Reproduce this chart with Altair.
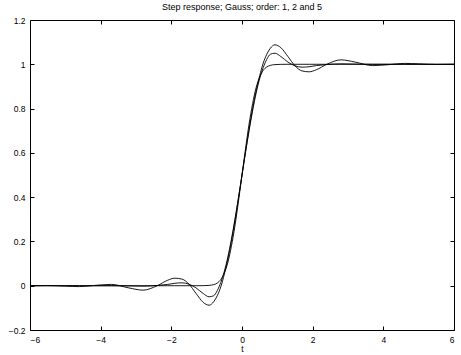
import altair as alt
import pandas as pd

# time axis (common to all series)
t = [-6, -5.5, -5, -4.6, -4.2, -3.7, -3.2, -2.8, -2.4, -2.1, -1.9, -1.7, -1.5, -1.3,
     -1.1, -0.93, -0.8, -0.7, -0.6, -0.5, -0.4, -0.3, -0.2, -0.1, 0,
     0.1, 0.2, 0.3, 0.4, 0.5, 0.6, 0.7, 0.8, 0.93, 1.1, 1.3, 1.5, 1.7, 1.9, 2.1,
     2.4, 2.8, 3.2, 3.7, 4.2, 4.6, 5, 5.5, 6]

order1 = [0, 0, 0, 0, 0, 0, 0, 0, 0, 0, 0, 0, 0, 0,
          0.0002, 0.0015, 0.005, 0.012, 0.028, 0.058, 0.105, 0.178, 0.27, 0.381, 0.5,
          0.619, 0.73, 0.822, 0.895, 0.942, 0.972, 0.988, 0.995, 0.9985, 0.9998, 1, 1, 1, 1, 1,
          1, 1, 1, 1, 1, 1, 1, 1, 1]

order2 = [0, 0, 0, 0, 0, 0, -0.001, -0.002, 0.001, 0.006, 0.011, 0.013, 0.007, -0.01,
          -0.035, -0.05, -0.045, -0.022, 0.015, 0.065, 0.13, 0.21, 0.30, 0.397, 0.5,
          0.603, 0.70, 0.79, 0.87, 0.935, 0.985, 1.022, 1.045, 1.05, 1.035, 1.01, 0.993, 0.987, 0.989, 0.994,
          0.999, 1.002, 1.001, 1, 1, 1, 1, 1, 1]

order5 = [0, 0.001, -0.002, -0.004, 0.001, 0.006, -0.010, -0.020, 0.000, 0.025, 0.034, 0.030, 0.007, -0.035,
          -0.075, -0.088, -0.072, -0.045, -0.005, 0.052, 0.12, 0.20, 0.293, 0.395, 0.5,
          0.605, 0.707, 0.80, 0.88, 0.948, 1.005, 1.045, 1.072, 1.088, 1.075, 1.035, 0.993, 0.970, 0.966, 0.975,
          1.000, 1.020, 1.010, 0.994, 0.999, 1.004, 1.002, 0.999, 1.0]

x_ticks = [-6, -4, -2, 0, 2, 4, 6]
y_ticks = [-0.2, 0, 0.2, 0.4, 0.6, 0.8, 1, 1.2]

rows = []
for name, vals in [("1", order1), ("2", order2), ("5", order5)]:
    for tv, v in zip(t, vals):
        rows.append({"t": tv, "v": v, "order": name})
df = pd.DataFrame(rows)

xs = alt.Scale(domain=[-6, 6], nice=False, zero=False)
ys = alt.Scale(domain=[-0.2, 1.2], nice=False, zero=False)
FONT = "Liberation Sans"

base = alt.Chart(df)

lines = base.mark_line(color="black", strokeWidth=0.9, interpolate="monotone").encode(
    x=alt.X("t:Q", scale=xs,
            axis=alt.Axis(orient="bottom", values=x_ticks, ticks=False, tickSize=0, domain=False,
                          grid=False, labelPadding=5, labelFontSize=8.5, labelFont=FONT,
                          labelColor="black", title="t", titleFontSize=8.5, titleFont=FONT,
                          titleFontWeight="normal", titlePadding=1, titleColor="black",
                          format="~g")),
    y=alt.Y("v:Q", scale=ys,
            axis=alt.Axis(orient="left", values=y_ticks, ticks=False, tickSize=0, domain=False,
                          grid=False, labelPadding=5, labelFontSize=8.5, labelFont=FONT,
                          labelColor="black", title=None, format="~g")),
    detail="order:N",
)

ticks_bl = base.mark_point(opacity=0).encode(
    x=alt.X("t:Q", scale=xs,
            axis=alt.Axis(orient="bottom", values=x_ticks, offset=-4, tickSize=4, labels=False,
                          domain=False, grid=False, title=None, tickColor="black")),
    y=alt.Y("v:Q", scale=ys,
            axis=alt.Axis(orient="left", values=y_ticks, offset=-4, tickSize=4, labels=False,
                          domain=False, grid=False, title=None, tickColor="black")),
)

ticks_tr = base.mark_point(opacity=0).encode(
    x=alt.X("t:Q", scale=xs,
            axis=alt.Axis(orient="top", values=x_ticks, offset=-4, tickSize=4, labels=False,
                          domain=False, grid=False, title=None, tickColor="black")),
    y=alt.Y("v:Q", scale=ys,
            axis=alt.Axis(orient="right", values=y_ticks, offset=-4, tickSize=4, labels=False,
                          domain=False, grid=False, title=None, tickColor="black")),
)

chart = (
    alt.layer(lines, ticks_bl, ticks_tr)
    .resolve_axis(x="independent", y="independent")
    .properties(
        width=424, height=310,
        title=alt.TitleParams("Step response; Gauss; order: 1, 2 and 5", fontSize=9,
                              font=FONT, fontWeight="normal", color="black", offset=4,
                              anchor="middle"),
        autosize=alt.AutoSizeParams(type="none"),
        padding={"left": 30, "top": 20, "right": 7, "bottom": 25},
        background="white",
    )
    .configure_view(stroke="black", strokeWidth=1)
)

chart.save("out.html", embed_options={"renderer": "svg", "actions": False})
